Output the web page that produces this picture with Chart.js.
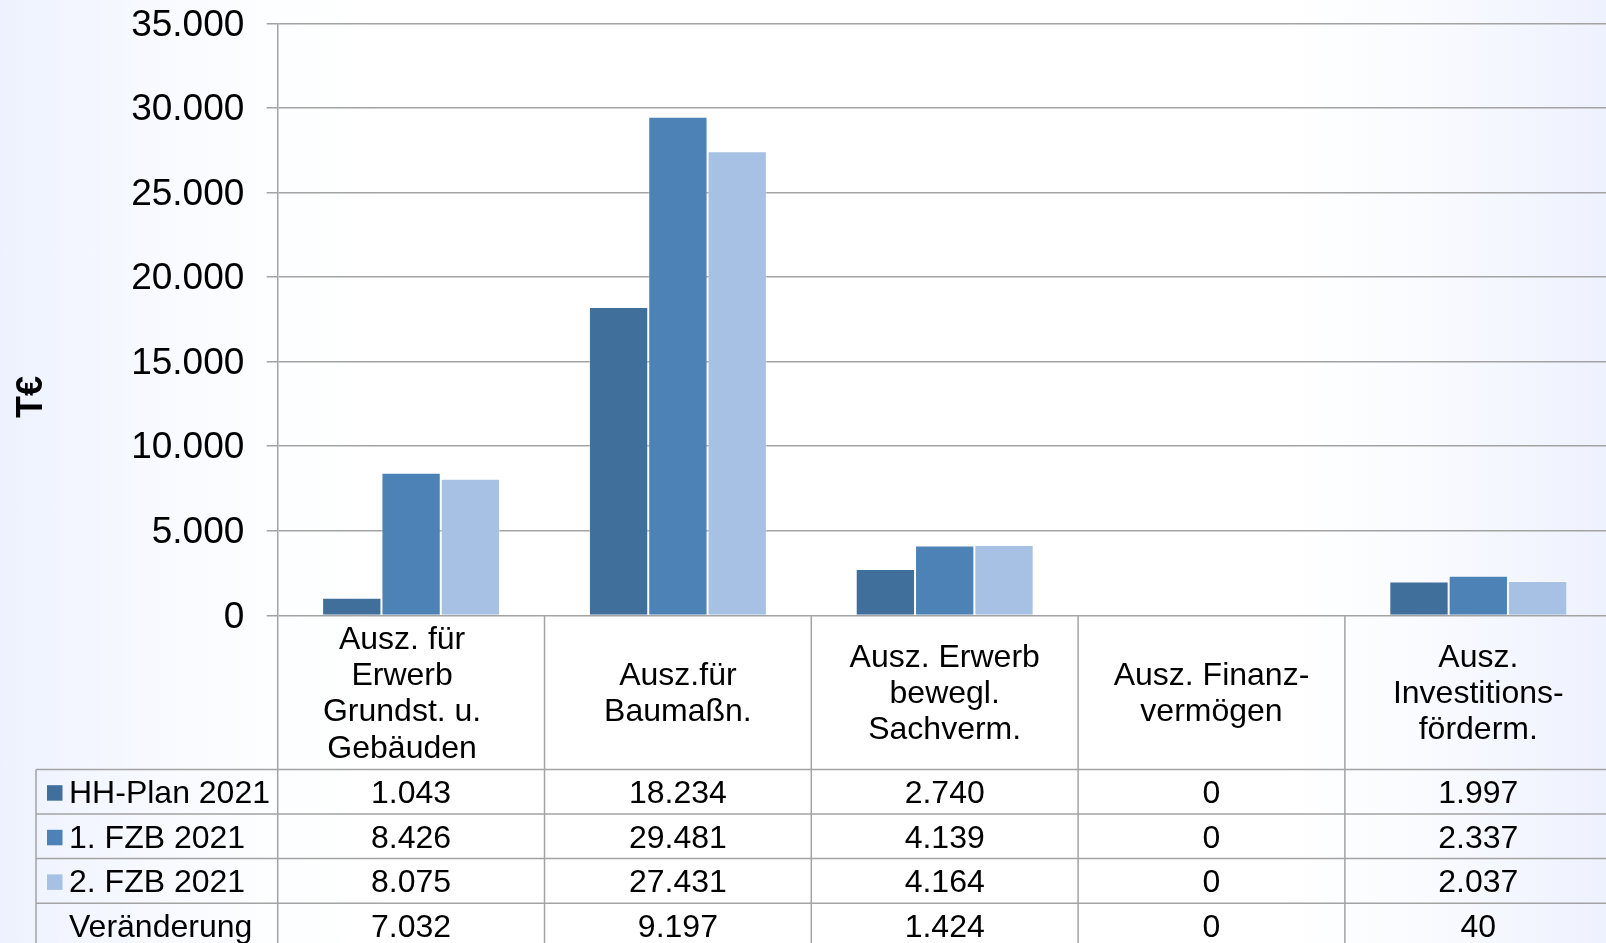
<!DOCTYPE html>
<html>
<head>
<meta charset="utf-8">
<script src="https://cdn.jsdelivr.net/npm/chart.js@4.4.1/dist/chart.umd.min.js"></script>
<style>
  html, body {
    margin: 0;
    padding: 0;
    width: 1606px;
    height: 943px;
    overflow: hidden;
    background: linear-gradient(to right, #edf2fe 0%, #f7f9ff 9%, #fdfeff 17%, #ffffff 24%, #ffffff 80%, #fbfcff 87%, #eef2fe 100%);
  }
  #wrap { position: relative; width: 1616px; height: 943px; }
</style>
</head>
<body>
<div id="wrap"><canvas id="chart"></canvas></div>
<script>
const categories = [
  ['Ausz. für', 'Erwerb', 'Grundst. u.', 'Gebäuden'],
  ['Ausz.für', 'Baumaßn.'],
  ['Ausz. Erwerb', 'bewegl.', 'Sachverm.'],
  ['Ausz. Finanz-', 'vermögen'],
  ['Ausz.', 'Investitions-', 'förderm.'],
];
const seriesNames = ['HH-Plan 2021', '1. FZB 2021', '2. FZB 2021'];
const hhPlan = [1043, 18234, 2740, 0, 1997];
const fzb1 = [8426, 29481, 4139, 0, 2337];
const fzb2 = [8075, 27431, 4164, 0, 2037];
const changeLabel = 'Veränderung';
const changes = [7032, 9197, 1424, 0, 40];
const yTicks = [0, 5000, 10000, 15000, 20000, 25000, 30000, 35000];

const colors = ['#416f9b', '#4d82b6', '#a6c1e3'];
const lineColor = '#a3a3a3';
const fontFamily = '"Liberation Sans", Arial, sans-serif';

const fmt = (n) => String(n).replace(/\B(?=(\d{3})+(?!\d))/g, '.');

const tablePlugin = {
  id: 'dataTable',
  afterDraw(chart) {
    const { ctx, chartArea, scales } = chart;
    const zeroY = scales.y.getPixelForValue(0);
    const colW = (chartArea.right - chartArea.left) / categories.length;
    const headerBottom = zeroY + 154;
    const rowH = 44.6;
    const tableLeft = 36;
    // first header label sits a bit left of the column centre in the original
    const headerShift = [-9, 0, 0, 0, 0];
    const rows = [
      { label: seriesNames[0], values: hhPlan, color: colors[0] },
      { label: seriesNames[1], values: fzb1, color: colors[1] },
      { label: seriesNames[2], values: fzb2, color: colors[2] },
      { label: changeLabel, values: changes, color: null },
    ];

    ctx.save();
    ctx.strokeStyle = lineColor;
    ctx.lineWidth = 1.5;

    // column lines below the axis
    for (let i = 0; i <= categories.length; i++) {
      const xx = chartArea.left + i * colW;
      ctx.beginPath();
      ctx.moveTo(xx, zeroY);
      ctx.lineTo(xx, chart.height);
      ctx.stroke();
    }
    // table left border
    ctx.beginPath();
    ctx.moveTo(tableLeft, headerBottom);
    ctx.lineTo(tableLeft, chart.height);
    ctx.stroke();
    // row lines
    for (let r = 0; r <= rows.length; r++) {
      const yy = headerBottom + r * rowH;
      ctx.beginPath();
      ctx.moveTo(tableLeft, yy);
      ctx.lineTo(chart.width, yy);
      ctx.stroke();
    }

    ctx.fillStyle = '#000';
    ctx.font = '32px ' + fontFamily;
    ctx.textBaseline = 'middle';

    // category labels
    ctx.textAlign = 'center';
    const lineH = 36.2;
    const headMid = (zeroY + headerBottom) / 2;
    categories.forEach((lines, i) => {
      const cx = scales.x.getPixelForValue(i) + headerShift[i];
      const startY = headMid - (lines.length - 1) * lineH / 2;
      lines.forEach((t, k) => ctx.fillText(t, cx, startY + k * lineH + 2));
    });

    // rows
    rows.forEach((row, r) => {
      const midY = headerBottom + r * rowH + rowH / 2 + 2.5;
      if (row.color) {
        ctx.fillStyle = row.color;
        ctx.fillRect(47, midY - 9, 15.5, 15.5);
      }
      ctx.fillStyle = '#000';
      ctx.textAlign = 'left';
      ctx.fillText(row.label, 69, midY);
      ctx.textAlign = 'center';
      row.values.forEach((v, i) => {
        ctx.fillText(fmt(v), scales.x.getPixelForValue(i), midY);
      });
    });

    // axis title
    ctx.save();
    ctx.translate(32, 397);
    ctx.rotate(-Math.PI / 2);
    ctx.font = 'bold 36px ' + fontFamily;
    ctx.textAlign = 'center';
    ctx.fillText('T€', 0, 0);
    ctx.restore();

    ctx.restore();
  },
};

const ctx = document.getElementById('chart').getContext('2d');

new Chart(ctx, {
  type: 'bar',
  data: {
    labels: categories.map((c) => c.join(' ')),
    datasets: [
      { label: seriesNames[0], data: hhPlan, backgroundColor: colors[0] },
      { label: seriesNames[1], data: fzb1, backgroundColor: colors[1] },
      { label: seriesNames[2], data: fzb2, backgroundColor: colors[2] },
    ].map((d) => ({
      ...d,
      borderColor: 'rgba(255,255,255,0.35)',
      borderWidth: 1,
      categoryPercentage: 0.667,
      barPercentage: 1.0,
    })),
  },
  options: {
    responsive: true,
    maintainAspectRatio: false,
    animation: false,
    layout: {
      padding: { left: 0, top: 23.3, right: 4.3, bottom: 327.6 },
    },
    plugins: {
      legend: { display: false },
      tooltip: { enabled: false },
    },
    scales: {
      x: {
        display: false,
        offset: true,
      },
      y: {
        min: 0,
        max: 35000,
        afterFit(scale) {
          scale.width = 277.7;
          scale.paddingTop = 0;
          scale.paddingBottom = 0;
        },
        afterBuildTicks(scale) {
          scale.ticks = yTicks.map((v) => ({ value: v }));
        },
        border: { display: true, color: lineColor, width: 1.5 },
        grid: {
          color: lineColor,
          lineWidth: 1.5,
          tickLength: 11,
          drawTicks: true,
        },
        ticks: {
          padding: 22.4,
          labelOffset: 2,
          color: '#000',
          font: { family: fontFamily, size: 37 },
          callback: (v) => fmt(v),
        },
      },
    },
  },
  plugins: [tablePlugin],
});
</script>
</body>
</html>
